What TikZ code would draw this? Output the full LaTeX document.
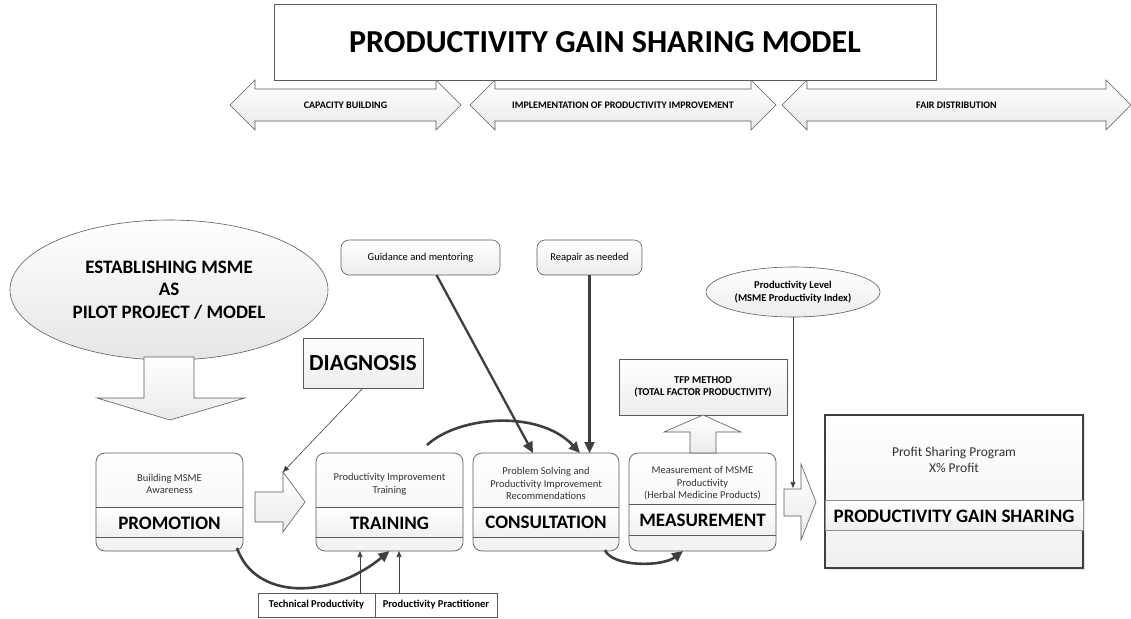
\documentclass[tikz,border=0pt]{standalone}
\usepackage{fontspec}
\setmainfont{Carlito}
\usetikzlibrary{shapes.geometric,arrows.meta,calc,shadows}

\definecolor{edgegray}{HTML}{5A5A5A}
\definecolor{inkgray}{HTML}{3F3F3F}
\definecolor{bandedge}{HTML}{8C8C8C}
\definecolor{captiongray}{HTML}{333333}

% Process box: name, x-left, x-right, band top, band bottom, caption y, caption, title y, title
\newcommand{\procbox}[9]{%
  \node[procshape, minimum width=#3pt-#2pt, minimum height=98pt] (#1) at ({(#2+#3)/2},502) {};
  \path[bandshade] (#2,#4) rectangle (#3,#5);
  \draw[edgegray, line width=0.6pt] (#2,#4) -- (#3,#4) (#2,#5) -- (#3,#5);
  \draw[edgegray, line width=0.7pt, rounded corners=9pt] (#2,453) rectangle (#3,551);
  \node[smalltext] (#1-cap) at ({(#2+#3)/2},#6) {#7};
  \node[bigtext] (#1-title) at ({(#2+#3)/2},#8) {#9};
}

% Double-headed phase arrow: name, x-left, x-right, label
\newcommand{\phasearrow}[4]{%
  \path[blockarrow] (#2,105) -- ({#2+25},80) -- ({#2+25},89) -- ({#3-25},89) -- ({#3-25},80)
     -- (#3,105) -- ({#3-25},130) -- ({#3-25},121) -- ({#2+25},121) -- ({#2+25},130) -- cycle;
  \node[phaselabel] (#1) at ({(#2+#3)/2},105) {#4};
}

\begin{document}
\begin{tikzpicture}[x=1pt,y=-1pt,
  procshape/.style={rectangle, rounded corners=9pt, top color=white, bottom color=gray!10,
    inner sep=0pt, outer sep=0pt},
  bandshade/.style={top color=white, bottom color=gray!12},
  smalltext/.style={font=\fontsize{10.5}{12.6}\selectfont, text=captiongray, align=center, inner sep=0pt},
  bigtext/.style={font=\fontsize{19}{22}\selectfont\bfseries, inner sep=0pt},
  blockarrow/.style={draw=edgegray, line width=0.6pt, top color=white, bottom color=gray!16},
  phaselabel/.style={font=\fontsize{10}{12}\selectfont\bfseries, inner sep=0pt},
  softbox/.style={draw=edgegray, line width=0.6pt, top color=white, bottom color=gray!14,
    inner sep=0pt, outer sep=0pt, align=center},
  plainbox/.style={draw=edgegray, line width=0.6pt, fill=white, inner sep=0pt, outer sep=0pt,
    font=\fontsize{10.5}{12}\selectfont\bfseries},
  heavyarrow/.style={draw=inkgray, line width=2.6pt, -{Triangle[length=11pt,width=10pt]}},
  finearrow/.style={draw=inkgray, line width=0.6pt, -{Triangle[length=6pt,width=5pt]}},
]
\useasboundingbox (0,0) rectangle (1131,618);

% ---- phases and title ----
\phasearrow{capacity}{230}{461}{CAPACITY BUILDING}
\phasearrow{implement}{470}{776}{IMPLEMENTATION OF PRODUCTIVITY IMPROVEMENT}
\phasearrow{fair}{782}{1131}{FAIR DISTRIBUTION}

\node[draw=edgegray, line width=0.7pt, fill=white, minimum width=662pt, minimum height=76pt,
  inner sep=0pt, font=\fontsize{32}{36}\selectfont\bfseries] (title) at (605,42)
  {PRODUCTIVITY GAIN SHARING MODEL};

% ---- starting point ----
\node[ellipse, draw=edgegray, line width=0.6pt, top color=white, bottom color=gray!20,
  minimum width=318pt, minimum height=140pt, inner sep=0pt, align=center,
  font=\fontsize{19}{22.5}\selectfont\bfseries] (estab) at (169,290)
  {ESTABLISHING MSME\\AS\\PILOT PROJECT / MODEL};

\path[blockarrow] (144,357) -- (194,357) -- (194,398) -- (245,398) -- (170,420)
  -- (97,398) -- (144,398) -- cycle;

% ---- inputs above the process ----
\node[softbox, rounded corners=8pt, minimum width=159pt, minimum height=35pt,
  font=\fontsize{10.5}{12}\selectfont] (guide) at (420.5,257.5) {Guidance and mentoring};
\node[softbox, rounded corners=8pt, minimum width=105pt, minimum height=35pt,
  font=\fontsize{10.5}{12}\selectfont] (reap) at (589.5,257.5) {Reapair as needed};
\node[softbox, minimum width=120pt, minimum height=50pt,
  font=\fontsize{23}{26}\selectfont\bfseries] (diag) at (363,363) {DIAGNOSIS};
\node[softbox, minimum width=168pt, minimum height=56pt,
  font=\fontsize{10.5}{12.2}\selectfont\bfseries] (tfp) at (703,387)
  {TFP METHOD\\(TOTAL FACTOR PRODUCTIVITY)};
\node[ellipse, softbox, minimum width=174pt, minimum height=50pt,
  font=\fontsize{10.5}{12.8}\selectfont\bfseries] (plevel) at (793,292)
  {Productivity Level\\(MSME Productivity Index)};

% ---- process boxes ----
\procbox{promo}{96}{243}{507}{537}{484}{Building MSME\\Awareness}{523}{PROMOTION}
\procbox{train}{316}{463}{507}{537}{484}{Productivity Improvement\\Training}{523}{TRAINING}
\procbox{consult}{473}{619}{507}{537}{483.5}{Problem Solving and\\Productivity Improvement\\Recommendations}{522}{CONSULTATION}
\procbox{measure}{629}{776}{504}{535}{483.5}{Measurement of MSME\\Productivity\\(Herbal Medicine Products)}{520}{MEASUREMENT}

% block arrows between stages
\path[blockarrow] (255,492) -- (283,492) -- (283,472) -- (305,502) -- (283,532)
  -- (283,522) -- (255,522) -- cycle;
\coordinate (stepin) at (283,472);
\path[blockarrow] (690,453) -- (690,432) -- (664,432) -- (703,415) -- (741,432)
  -- (716,432) -- (716,453) -- cycle;
\path[blockarrow] (784,489) -- (801,489) -- (801,464) -- (816,502) -- (801,540)
  -- (801,516) -- (784,516) -- cycle;
\coordinate (sharein) at (793,488);

% ---- profit sharing ----
\node[rectangle, draw=inkgray, line width=2.2pt, top color=white, bottom color=gray!12,
  minimum width=258pt, minimum height=153pt, inner sep=0pt, outer sep=0pt,
  drop shadow={shadow xshift=2pt, shadow yshift=-2pt, fill=gray!35}] (pgs) at (954,491.5) {};
\path[draw=bandedge, line width=0.8pt, top color=white, bottom color=gray!12]
  (825,500) rectangle (1083,530);
\node[smalltext, font=\fontsize{13.5}{16}\selectfont] (pgs-cap) at (954,460)
  {Profit Sharing Program\\X\% Profit};
\node[bigtext] (pgs-title) at (954,516) {PRODUCTIVITY GAIN SHARING};

% ---- training resources ----
\node[plainbox, minimum width=117pt, minimum height=24pt] (tech) at (316.5,605) {Technical Productivity};
\node[plainbox, minimum width=122pt, minimum height=24pt] (prac) at (436,605) {Productivity Practitioner};

% ---- connectors ----
\draw[heavyarrow] ($(promo.south east)+(-6,-3)$) .. controls (255,600) and (330,600) .. (train.south);
\draw[heavyarrow] ($(train.north)+(37.5,-8)$) .. controls (460,415) and (540,410) .. ($(consult.north)+(34,0)$);
\draw[heavyarrow] ($(consult.south east)+(-14,-1)$) .. controls (612,567) and (662,567) .. ($(measure.south)+(-19.5,0)$);
\draw[heavyarrow, line width=2.3pt] ($(guide.south)+(16,0)$) -- ($(consult.north)+(-13,0)$);
\draw[heavyarrow, line width=2.3pt] (reap.south) -- (reap.south |- consult.north);
\draw[finearrow] (diag.south) -- (stepin);
\draw[finearrow] (plevel.south) -- (sharein);
\coordinate (techup) at ($(tech.north east)+(-15,0)$);
\coordinate (pracup) at ($(prac.north west)+(24,0)$);
\draw[finearrow] (techup) -- (techup |- train.south);
\draw[finearrow] (pracup) -- (pracup |- train.south);
\end{tikzpicture}
\end{document}
